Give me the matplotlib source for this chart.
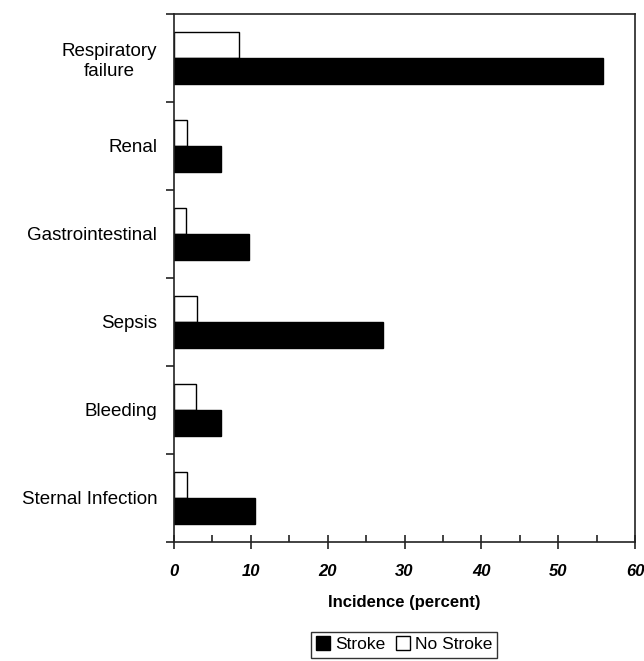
import matplotlib
matplotlib.use("Agg")
import matplotlib.pyplot as plt
from matplotlib.lines import Line2D
from matplotlib.ticker import MultipleLocator, FixedLocator
import numpy as np

plt.rcParams['font.family'] = ['Liberation Sans', 'DejaVu Sans']

categories = ["Respiratory\nfailure", "Renal", "Gastrointestinal", "Sepsis", "Bleeding", "Sternal Infection"]
stroke = [55.8, 6.1, 9.8, 27.2, 6.1, 10.5]
no_stroke = [8.4, 1.7, 1.5, 3.0, 2.8, 1.7]
xticks = [0, 10, 20, 30, 40, 50, 60]

fig = plt.figure(figsize=(6.44, 6.61), dpi=100)
ax = fig.add_axes([174/644, 1-542/661, (635-174)/644, (542-14)/661])

y = np.arange(len(categories))
h = 0.29
ax.barh(y - h/2, no_stroke, height=h, color='white', edgecolor='black', linewidth=1.0, label='No Stroke')
ax.barh(y + h/2, stroke, height=h, color='black', edgecolor='black', linewidth=1.0, label='Stroke')

ax.set_xlim(0, 60)
ax.set_ylim(len(categories) - 0.5, -0.5)

ax.set_yticks(y)
ax.set_yticklabels(categories, fontsize=13.5, ha='right', multialignment='center')
ax.yaxis.set_minor_locator(FixedLocator(np.arange(-0.5, len(categories), 1.0)))
ax.tick_params(axis='y', which='major', length=0, pad=12)
ax.tick_params(axis='y', which='minor', length=6, width=1.2, direction='out', color='#222222')

ax.set_xticks(xticks)
ax.set_xticklabels([str(t) for t in xticks], fontsize=12, fontweight='bold', fontstyle='italic')
ax.xaxis.set_minor_locator(MultipleLocator(5))
ax.tick_params(axis='x', which='major', length=10, width=1.2, direction='inout', pad=11, color='#222222')
ax.tick_params(axis='x', which='minor', length=5, width=1.2, direction='in', color='#222222')
ax.set_xlabel("Incidence (percent)", fontsize=12, fontweight='bold', labelpad=11)

for s in ax.spines.values():
    s.set_color('#222222')
    s.set_linewidth(1.2)

handles = [Line2D([], [], marker='s', linestyle='none', markersize=10, markerfacecolor='black', markeredgecolor='black'),
           Line2D([], [], marker='s', linestyle='none', markersize=10, markerfacecolor='white', markeredgecolor='black')]
leg = fig.legend(handles, ['Stroke', 'No Stroke'], loc='upper center', bbox_to_anchor=(404/644, 1-632/661),
                 ncol=2, frameon=True, fancybox=False, edgecolor='black', fontsize=12.5,
                 handlelength=0.8, handletextpad=0.3, columnspacing=0.6, borderpad=0.3, borderaxespad=0)
leg.get_frame().set_linewidth(1.0)

fig.savefig("out.png", dpi=100)
